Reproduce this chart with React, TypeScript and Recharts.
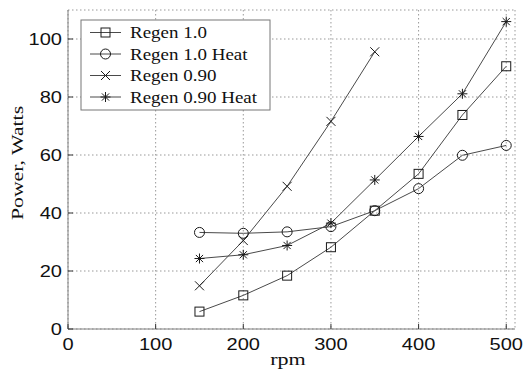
import React from 'react';
import { LineChart, Line, XAxis, YAxis, CartesianGrid, Customized } from 'recharts';

// ---- data ----
const rpm = [150, 200, 250, 300, 350, 400, 450, 500];
const rpm090 = [150, 200, 250, 300, 350];
const regen10 = [6.0, 11.6, 18.4, 28.2, 40.8, 53.5, 73.8, 90.6];
const regen10Heat = [33.3, 33.0, 33.5, 35.3, 40.8, 48.4, 59.9, 63.3];
const regen090 = [14.9, 30.5, 49.2, 71.6, 95.6];
const regen090Heat = [24.3, 25.6, 28.8, 36.5, 51.4, 66.4, 81.1, 106];
const xTicks = [0, 100, 200, 300, 400, 500];
const yTicks = [0, 20, 40, 60, 80, 100];
const seriesNames = ['Regen 1.0', 'Regen 1.0 Heat', 'Regen 0.90', 'Regen 0.90 Heat'];
const markerKinds = ['square', 'circle', 'x', 'star'];

const toPts = (xs: number[], ys: number[]) => xs.map((x, i) => ({ x, y: ys[i] }));
const seriesData = [
  toPts(rpm, regen10),
  toPts(rpm, regen10Heat),
  toPts(rpm090, regen090),
  toPts(rpm, regen090Heat),
];

const SANS = '"Liberation Sans", Arial, sans-serif';
const SERIF = '"Liberation Serif", "Times New Roman", serif';
const MK = '#1a1a1a';
const LN = '#4a4a4a';

function Marker({ kind, cx, cy }: { kind: string; cx: number; cy: number }) {
  if (cx == null || cy == null) return null;
  const s = 4.5;
  switch (kind) {
    case 'square':
      return <rect x={cx - s} y={cy - s} width={2 * s} height={2 * s} fill="none" stroke={MK} strokeWidth={1} />;
    case 'circle':
      return <circle cx={cx} cy={cy} r={5} fill="none" stroke={MK} strokeWidth={1} />;
    case 'x':
      return (
        <g stroke={MK} strokeWidth={1}>
          <line x1={cx - s} y1={cy - s} x2={cx + s} y2={cy + s} />
          <line x1={cx - s} y1={cy + s} x2={cx + s} y2={cy - s} />
        </g>
      );
    default:
      return (
        <g stroke={MK} strokeWidth={1}>
          <line x1={cx - 5} y1={cy} x2={cx + 5} y2={cy} />
          <line x1={cx} y1={cy - 5} x2={cx} y2={cy + 5} />
          <line x1={cx - 3.6} y1={cy - 3.6} x2={cx + 3.6} y2={cy + 3.6} />
          <line x1={cx - 3.6} y1={cy + 3.6} x2={cx + 3.6} y2={cy - 3.6} />
        </g>
      );
  }
}

const XTickBottom = (props: any) => {
  const { x, y, payload } = props;
  return (
    <g>
      <line x1={x} x2={x} y1={y} y2={y - 5} stroke="#333" strokeWidth={1} />
      <text
        transform={`translate(${x},${y + 21}) scale(1.18,1)`}
        textAnchor="middle"
        fontFamily={SANS}
        fontSize={17}
        fill="#111"
      >
        {payload.value}
      </text>
    </g>
  );
};

const XTickTop = (props: any) => {
  const { x, y } = props;
  return <line x1={x} x2={x} y1={y} y2={y + 5} stroke="#333" strokeWidth={1} />;
};

const YTickLeft = (props: any) => {
  const { x, y, payload } = props;
  return (
    <g>
      <line x1={x} x2={x + 5} y1={y} y2={y} stroke="#333" strokeWidth={1} />
      <text
        transform={`translate(${x - 6},${y + 6}) scale(1.18,1)`}
        textAnchor="end"
        fontFamily={SANS}
        fontSize={17}
        fill="#111"
      >
        {payload.value}
      </text>
    </g>
  );
};

const YTickRight = (props: any) => {
  const { x, y } = props;
  return <line x1={x} x2={x - 5} y1={y} y2={y} stroke="#333" strokeWidth={1} />;
};

const LegendBox = () => {
  const bx = 81;
  const by = 20;
  const rowGap = 21.5;
  return (
    <g>
      <rect x={bx} y={by} width={189} height={90} fill="#fff" stroke="#777" strokeWidth={1} />
      {seriesNames.map((name, i) => {
        const cy = by + 12.5 + i * rowGap;
        return (
          <g key={name}>
            <line x1={bx + 9} x2={bx + 40} y1={cy} y2={cy} stroke={LN} strokeWidth={1} />
            <Marker kind={markerKinds[i]} cx={bx + 24.5} cy={cy} />
            <text
              transform={`translate(${bx + 49},${cy + 5.5}) scale(1.085,1)`}
              fontFamily={SERIF}
              fontSize={17.5}
              fill="#111"
            >
              {name}
            </text>
          </g>
        );
      })}
    </g>
  );
};

const AxisTitles = () => (
  <g>
    <text
      transform="translate(288,365) scale(1.3,1)"
      textAnchor="middle"
      fontFamily={SERIF}
      fontSize={17}
      fill="#111"
    >
      rpm
    </text>
    <text
      transform="translate(23,163) rotate(-90) scale(1.28,1)"
      textAnchor="middle"
      fontFamily={SERIF}
      fontSize={17}
      fill="#111"
    >
      Power, Watts
    </text>
  </g>
);

export default function App() {
  return (
    <div style={{ width: 523, height: 369 }}>
      <style>{'body{margin:0;}'}</style>
      <LineChart width={523} height={369} margin={{ top: 10, right: 8, left: 0, bottom: 0 }}>
        <CartesianGrid xAxisId="b" yAxisId="l" stroke="#999" strokeDasharray="1.5 2.5" />
        <XAxis
          xAxisId="b"
          type="number"
          dataKey="x"
          domain={[0, 510]}
          ticks={xTicks}
          allowDataOverflow
          height={40}
          tickSize={0}
          tickMargin={0}
          tickLine={false}
          axisLine={{ stroke: '#808080' }}
          tick={<XTickBottom />}
          interval={0}
        />
        <XAxis
          xAxisId="t"
          orientation="top"
          type="number"
          dataKey="x"
          domain={[0, 510]}
          ticks={xTicks}
          allowDataOverflow
          height={0}
          tickSize={0}
          tickMargin={0}
          tickLine={false}
          axisLine={{ stroke: '#808080' }}
          tick={<XTickTop />}
          interval={0}
        />
        <YAxis
          yAxisId="l"
          type="number"
          domain={[0, 110]}
          ticks={yTicks}
          allowDataOverflow
          width={68}
          tickSize={0}
          tickMargin={0}
          tickLine={false}
          axisLine={{ stroke: '#808080' }}
          tick={<YTickLeft />}
          interval={0}
        />
        <YAxis
          yAxisId="r"
          orientation="right"
          type="number"
          domain={[0, 110]}
          ticks={yTicks}
          allowDataOverflow
          width={0}
          tickSize={0}
          tickMargin={0}
          tickLine={false}
          axisLine={{ stroke: '#808080' }}
          tick={<YTickRight />}
          interval={0}
        />
        {seriesData.map((d, i) => (
          <Line
            key={seriesNames[i]}
            xAxisId="b"
            yAxisId="l"
            data={d}
            dataKey="y"
            name={seriesNames[i]}
            stroke={LN}
            strokeWidth={1}
            isAnimationActive={false}
            activeDot={false}
            dot={(p: any) => <Marker key={`${i}-${p.index}`} kind={markerKinds[i]} cx={p.cx} cy={p.cy} />}
          />
        ))}
        <Customized component={LegendBox} />
        <Customized component={AxisTitles} />
      </LineChart>
    </div>
  );
}
